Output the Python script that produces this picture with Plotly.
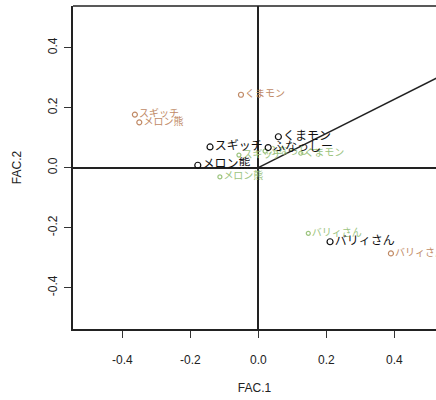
import plotly.graph_objects as go

# Black (main) points
black_names = ["スギッチ", "メロン熊", "くまモン", "ふなっしー", "バリィさん"]
black_x = [-0.142, -0.178, 0.059, 0.029, 0.211]
black_y = [0.069, 0.008, 0.103, 0.067, -0.247]

# Tan points
tan_names = ["スギッチ", "メロン熊", "くまモン", "バリィさん"]
tan_x = [-0.363, -0.350, -0.051, 0.390]
tan_y = [0.177, 0.151, 0.243, -0.286]

# Green points
green_names = ["スギッチ", "メロン熊", "ふなっしー", "くまモン", "バリィさん"]
green_x = [-0.057, -0.113, 0.020, 0.125, 0.147]
green_y = [0.042, -0.031, 0.055, 0.048, -0.219]

# Vector line
vec_x = [0.0, 0.70]
vec_y = [0.0, 0.399]

x_ticks = [-0.4, -0.2, 0.0, 0.2, 0.4]
y_ticks = [-0.4, -0.2, 0.0, 0.2, 0.4]

JP = "Noto Sans CJK JP"
BLACK = "#111111"
TAN = "#c08a66"
GREEN = "#9cc47e"

fig = go.Figure()

fig.add_trace(go.Scatter(x=vec_x, y=vec_y, mode="lines",
                         line=dict(color="#222222", width=1.5),
                         hoverinfo="skip", showlegend=False))

def add_group(xs, ys, names, color, size, fsize):
    fig.add_trace(go.Scatter(
        x=xs, y=ys, mode="markers+text", text=names,
        textposition="middle right",
        textfont=dict(family=JP, size=fsize, color=color),
        marker=dict(symbol="circle-open", size=size, color=color,
                    line=dict(width=1.2, color=color)),
        showlegend=False, cliponaxis=True))

add_group(tan_x, tan_y, tan_names, TAN, 5, 10)
add_group(green_x, green_y, green_names, GREEN, 4, 10)
add_group(black_x, black_y, black_names, BLACK, 6, 12)

fig.update_layout(
    width=436, height=400,
    margin=dict(l=73, r=0, t=6, b=71),
    paper_bgcolor="white", plot_bgcolor="white",
    font=dict(family="Liberation Sans", size=12, color="#222222"),
    xaxis=dict(range=[-0.545, 0.5226], tickvals=x_ticks,
               ticktext=[f"{v:.1f}" for v in x_ticks],
               ticks="outside", ticklen=7, tickwidth=1.2, tickcolor="#333",
               ticklabelstandoff=12,
               showline=True, linecolor="#222", linewidth=1.5,
               showgrid=False, zeroline=True, zerolinecolor="#222",
               zerolinewidth=1.5,
               title=dict(text="FAC.1", standoff=17,
                          font=dict(family="Liberation Sans", size=12)),
               tickfont=dict(family="Liberation Sans", size=12)),
    yaxis=dict(range=[-0.538, 0.539], tickvals=y_ticks,
               ticktext=[f"{v:.1f}" for v in y_ticks],
               tickangle=-90,
               ticks="outside", ticklen=7, tickwidth=1.2, tickcolor="#333",
               ticklabelstandoff=2,
               showline=True, linecolor="#222", linewidth=1.5,
               showgrid=False, zeroline=True, zerolinecolor="#222",
               zerolinewidth=1.5,
               title=dict(text="FAC.2", standoff=22,
                          font=dict(family="Liberation Sans", size=12)),
               tickfont=dict(family="Liberation Sans", size=12)),
    shapes=[dict(type="line", xref="paper", yref="paper", x0=0, x1=1,
                 y0=1, y1=1, line=dict(color="#222", width=1.5))],
)

fig.write_html("out.html", config={"displayModeBar": False},
               post_script="document.body.style.margin='0';")
